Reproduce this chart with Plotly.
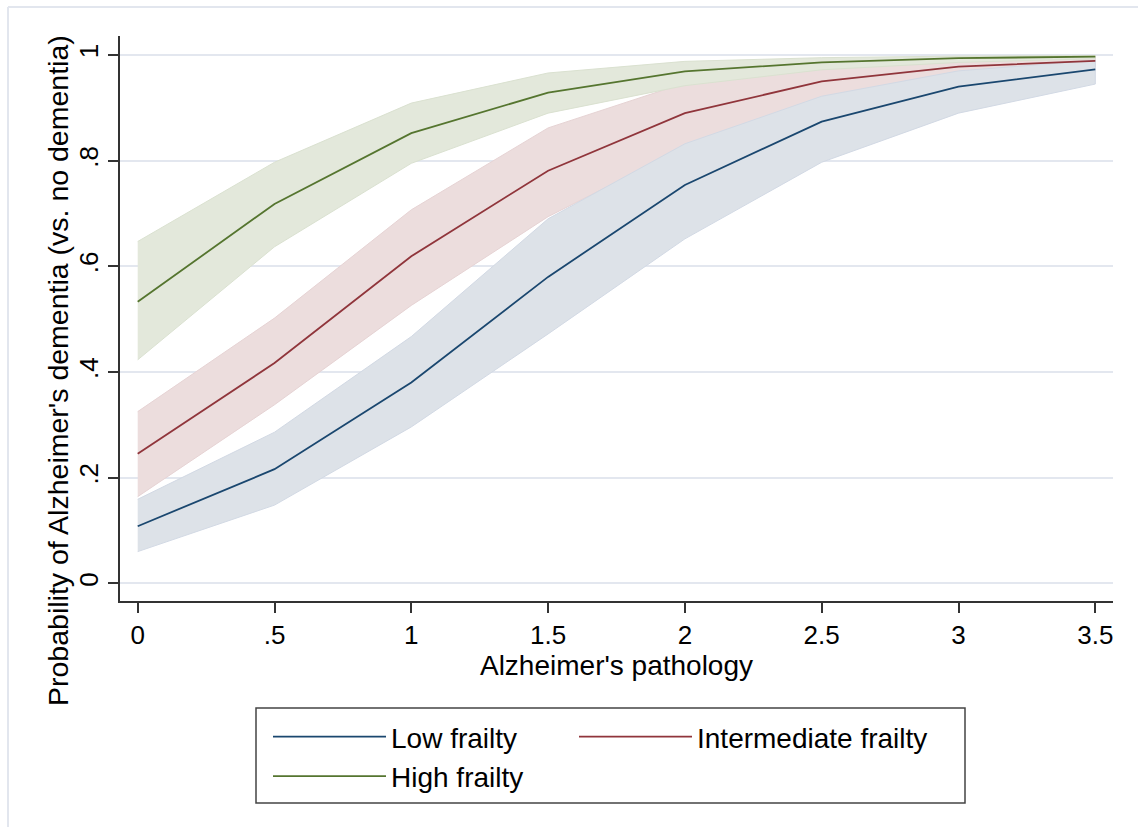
import plotly.graph_objects as go

# Predicted probability of Alzheimer's dementia by pathology and frailty level
pathology = [0, 0.5, 1, 1.5, 2, 2.5, 3, 3.5]

low = [0.108, 0.216, 0.380, 0.580, 0.754, 0.874, 0.940, 0.973]
low_lo = [0.060, 0.148, 0.296, 0.472, 0.652, 0.797, 0.890, 0.945]
low_hi = [0.159, 0.286, 0.467, 0.690, 0.832, 0.922, 0.970, 0.990]

inter = [0.245, 0.417, 0.619, 0.781, 0.890, 0.950, 0.978, 0.989]
inter_lo = [0.164, 0.338, 0.526, 0.694, 0.825, 0.910, 0.955, 0.977]
inter_hi = [0.325, 0.502, 0.707, 0.862, 0.947, 0.980, 0.993, 0.997]

high = [0.533, 0.718, 0.852, 0.929, 0.969, 0.986, 0.994, 0.997]
high_lo = [0.423, 0.637, 0.795, 0.890, 0.942, 0.972, 0.986, 0.993]
high_hi = [0.647, 0.797, 0.909, 0.966, 0.988, 0.995, 0.998, 0.999]

x_ticks = [0, 0.5, 1, 1.5, 2, 2.5, 3, 3.5]
x_labels = ["0", ".5", "1", "1.5", "2", "2.5", "3", "3.5"]
y_ticks = [0, 0.2, 0.4, 0.6, 0.8, 1]
y_labels = ["0", ".2", ".4", ".6", ".8", "1"]

FONT = "Liberation Sans, Arial, Helvetica, sans-serif"

series = {
    "low": dict(name="Low frailty", y=low, lo=low_lo, hi=low_hi,
                line="#1a476f", fill="#dde2e8", edge="#d2d9e4", legend="legend", group="a"),
    "inter": dict(name="Intermediate frailty", y=inter, lo=inter_lo, hi=inter_hi,
                  line="#90353b", fill="#ecdddd", edge="#e6d3d4", legend="legend2", group="c"),
    "high": dict(name="High frailty", y=high, lo=high_lo, hi=high_hi,
                 line="#55752f", fill="#e3e8db", edge="#dae1d0", legend="legend", group="b"),
}

fig = go.Figure()

# confidence bands (drawn first, under the lines)
for key in ["inter", "high", "low"]:
    s = series[key]
    fig.add_trace(go.Scatter(
        x=pathology + pathology[::-1],
        y=s["hi"] + s["lo"][::-1],
        fill="toself", fillcolor=s["fill"],
        line=dict(color=s["edge"], width=1),
        mode="lines", hoverinfo="skip", showlegend=False,
    ))

# predicted probability lines
for key in ["low", "inter", "high"]:
    s = series[key]
    fig.add_trace(go.Scatter(
        x=pathology, y=s["y"], mode="lines", name=s["name"],
        line=dict(color=s["line"], width=1.8),
        legend=s["legend"], legendgroup=s["group"],
    ))

def px_x(p):
    return (p - 120) / 993

def px_y(p):
    return (601 - p) / 565

legend_style = dict(
    xanchor="left", yanchor="top", orientation="v",
    font=dict(family=FONT, size=28, color="#000000"),
    bgcolor="rgba(0,0,0,0)", borderwidth=0,
    itemwidth=113, tracegroupgap=0,
)

fig.update_layout(
    width=1138, height=827,
    margin=dict(l=120, r=25, t=36, b=226),
    paper_bgcolor="#ffffff", plot_bgcolor="#ffffff",
    font=dict(family=FONT, color="#000000"),
    legend=dict(x=px_x(268), y=px_y(712), **legend_style),
    legend2=dict(x=px_x(574), y=px_y(712), **legend_style),
    xaxis=dict(
        range=[-0.0647, 3.5647], tickvals=x_ticks, ticktext=x_labels,
        showgrid=False, zeroline=False,
        showline=True, linecolor="#333333", linewidth=1.5,
        ticks="outside", ticklen=10, tickwidth=1.5, tickcolor="#333333",
        tickfont=dict(family=FONT, size=26, color="#000000"),
        title=dict(text="Alzheimer's pathology",
                   font=dict(family=FONT, size=28, color="#000000"), standoff=0),
    ),
    yaxis=dict(
        range=[-0.0335, 1.036], tickvals=y_ticks, ticktext=y_labels,
        showgrid=True, gridcolor="#e3e7ef", gridwidth=2, zeroline=False,
        showline=True, linecolor="#333333", linewidth=1.5,
        ticks="outside", ticklen=10, tickwidth=1.5, tickcolor="#333333",
        tickangle=-90,
        tickfont=dict(family=FONT, size=26, color="#000000"),
    ),
    annotations=[dict(
        text="Probability of Alzheimer's dementia (vs. no dementia)",
        textangle=-90, showarrow=False,
        xref="paper", yref="paper", x=px_x(58), y=px_y(371),
        xanchor="center", yanchor="middle",
        font=dict(family=FONT, size=28.5, color="#000000"),
    )],
    shapes=[
        # legend frame
        dict(type="rect", xref="paper", yref="paper",
             x0=px_x(256), x1=px_x(965), y0=px_y(803), y1=px_y(708),
             line=dict(color="#444444", width=1.5), fillcolor="rgba(0,0,0,0)"),
        # outer graph-region border
        dict(type="line", xref="paper", yref="paper",
             x0=px_x(8), x1=px_x(1138), y0=px_y(7), y1=px_y(7),
             line=dict(color="#e2e6ee", width=2)),
        dict(type="line", xref="paper", yref="paper",
             x0=px_x(8), x1=px_x(8), y0=px_y(7), y1=px_y(827),
             line=dict(color="#e2e6ee", width=2)),
    ],
)

fig.write_html("out.html")
